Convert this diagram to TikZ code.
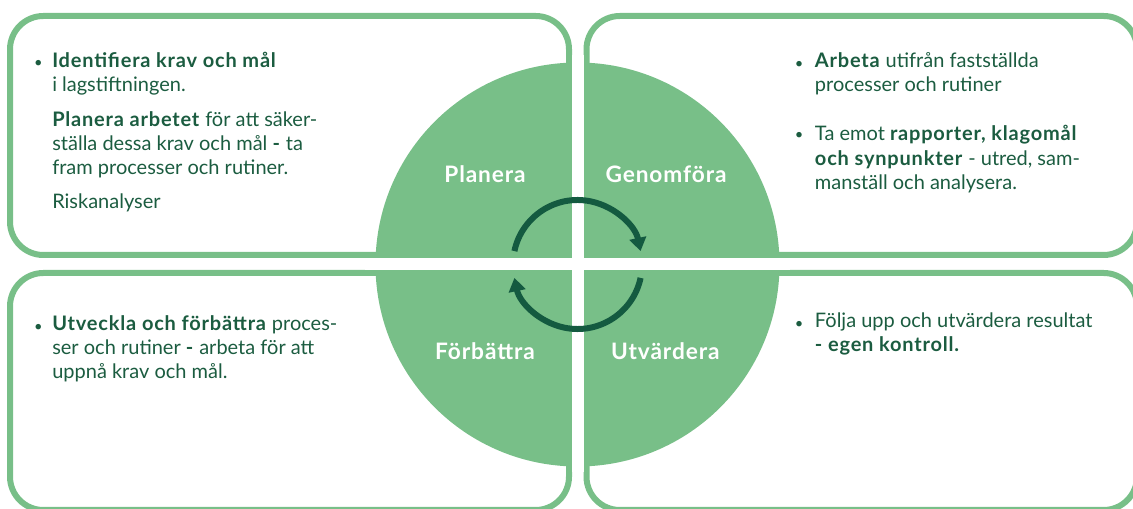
\documentclass[tikz,border=0pt]{standalone}
\usepackage{fontspec}
\setmainfont{Lato}[BoldFeatures={LetterSpace=4}]
\usetikzlibrary{arrows.meta}
\definecolor{lgreen}{HTML}{78BF88}
\definecolor{dgreen}{HTML}{1B5C40}
\definecolor{agreen}{HTML}{145A40}
\begin{document}
\begin{tikzpicture}[x=0.75pt,y=-0.75pt,
 box/.style={draw=lgreen, line width=4.5pt, rounded corners=25pt},
 body/.style={text=dgreen, font=\fontsize{15}{18.2}\selectfont, align=left, anchor=base west, inner sep=0pt},
 bul/.style={text=dgreen, font=\fontsize{11}{13}\selectfont, anchor=base, inner sep=0pt},
 lab/.style={text=white, font=\bfseries\fontsize{17}{20}\selectfont, anchor=base, inner sep=0pt},
 cyc/.style={draw=agreen, line width=4.5pt, -{Triangle[width=12.5pt,length=10pt]}}]
\useasboundingbox (0,0) rectangle (1133,509);
% boxes
\draw[box] (10,16) rectangle (569,255);
\draw[box] (586.5,16) rectangle (1137,255);
\draw[box] (10,273) rectangle (569,510);
\draw[box] (586.5,273) rectangle (1137,510);
% circle
\coordinate (c) at (577.5,264.5);
\fill[lgreen] (c) circle[radius=202];
\fill[white] (572,55) rectangle (583.5,472);
\fill[white] (365,258) rectangle (790,270);
% cycle arrows
\draw[cyc] (c) ++(-168:64.5) arc[start angle=-168, end angle=-12, radius=64.5];
\draw[cyc] (c) ++(12:64.5) arc[start angle=12, end angle=168, radius=64.5];
% labels
\node[lab] (l1) at (485,182.7) {Planera};
\node[lab] (l2) at (666,182.7) {Genomföra};
\node[lab] (l3) at (485,360) {Förbättra};
\node[lab] (l4) at (665.3,360) {Utvärdera};
% texts (anchored at the baseline of the last line)
\node[bul] (b1) at (38.5,68) {•};
\node[body] (t1) at (52,209) {\textbf{Identifiera krav och mål}\\ i lagstiftningen.\\[7.5pt] \textbf{Planera arbetet} för att säker-\\ ställa dessa krav och mål \textbf{-} ta\\ fram processer och rutiner.\\[7.5pt] Riskanalyser};
\node[bul] (b2) at (799,68.3) {•};
\node[body] (t2) at (814.7,91.7) {\textbf{Arbeta} utifrån fastställda\\ processer och rutiner};
\node[bul] (b3) at (799,140) {•};
\node[body] (t3) at (814.7,189.3) {Ta emot \textbf{rapporter, klagomål}\\ \textbf{och synpunkter} - utred, sam-\\ manställ och analysera.};
\node[bul] (b4) at (38.5,331.7) {•};
\node[body] (t4) at (52,379) {\textbf{Utveckla och förbättra} proces-\\ ser och rutiner \textbf{-} arbeta för att\\ uppnå krav och mål.};
\node[bul] (b5) at (799,328.3) {•};
\node[body] (t5) at (814.7,351.7) {Följa upp och utvärdera resultat\\ \textbf{- egen kontroll.}};
\end{tikzpicture}
\end{document}
